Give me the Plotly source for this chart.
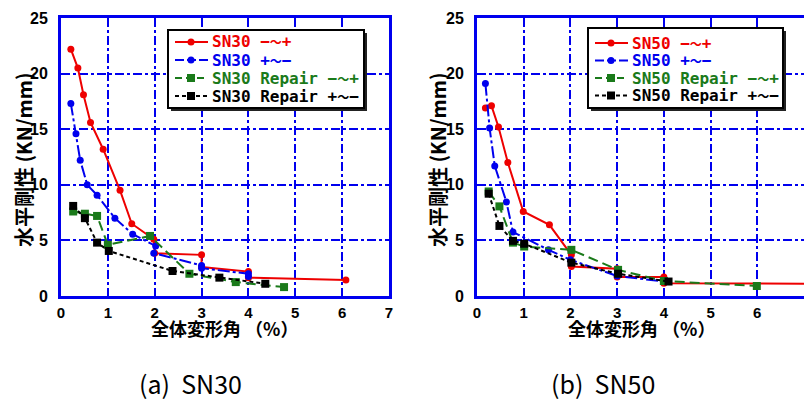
import plotly.graph_objects as go

# ---------------- data ----------------
sn30_red_x = [0.21, 0.36, 0.48, 0.63, 0.90, 1.26, 1.51, 1.98, 2.0, 3.0, 3.0, 4.0, 4.0, 6.08]
sn30_red_y = [22.2, 20.5, 18.1, 15.6, 13.2, 9.5, 6.5, 5.1, 3.85, 3.7, 2.6, 2.2, 1.65, 1.45]
sn30_blue_x = [0.21, 0.32, 0.41, 0.56, 0.77, 1.15, 1.53, 2.02, 1.98, 3.0, 3.0, 4.0, 4.0]
sn30_blue_y = [17.3, 14.6, 12.2, 10.0, 9.07, 7.0, 5.56, 4.5, 3.85, 2.75, 2.5, 2.0, 1.75]
sn30_green_x = [0.26, 0.51, 0.77, 1.0, 1.9, 2.74, 3.73, 4.76]
sn30_green_y = [7.6, 7.4, 7.2, 4.6, 5.4, 2.0, 1.25, 0.8]
sn30_black_x = [0.26, 0.51, 0.77, 1.02, 2.38, 3.38, 4.36]
sn30_black_y = [8.1, 7.0, 4.8, 4.05, 2.25, 1.65, 1.1]

sn50_red_x = [0.18, 0.31, 0.46, 0.66, 0.99, 1.55, 2.02, 2.02, 3.0, 3.0, 4.0, 4.0, 8.0]
sn50_red_y = [16.9, 17.1, 15.2, 12.0, 7.6, 6.4, 3.7, 2.65, 2.45, 1.7, 1.7, 1.15, 1.1]
sn50_blue_x = [0.18, 0.27, 0.38, 0.63, 0.77, 1.53, 2.0, 3.0, 4.0]
sn50_blue_y = [19.1, 15.1, 11.7, 8.45, 5.75, 4.15, 3.25, 1.8, 1.3]
sn50_green_x = [0.25, 0.48, 0.77, 1.01, 2.02, 3.02, 4.0, 5.99]
sn50_green_y = [9.4, 8.06, 4.8, 4.45, 4.15, 2.35, 1.35, 0.9]
sn50_black_x = [0.25, 0.48, 0.77, 1.01, 2.02, 3.02, 4.1]
sn50_black_y = [9.2, 6.3, 4.96, 4.7, 3.0, 2.0, 1.3]

x_ticks = [0, 1, 2, 3, 4, 5, 6, 7]
y_ticks = [0, 5, 10, 15, 20, 25]
x_title = "全体変形角 （%）"
y_title = "水平剛性 (KN/mm)"
panel_titles = ["(a)  SN30", "(b)  SN50"]
sn30_names = ["SN30 −〜+", "SN30 +〜−", "SN30 Repair −〜+", "SN30 Repair +〜−"]
sn50_names = ["SN50 −〜+", "SN50 +〜−", "SN50 Repair −〜+", "SN50 Repair +〜−"]

CJK = "Noto Sans CJK JP"
MONO = "DejaVu Sans Mono, Noto Sans CJK JP"
LAT = "Liberation Sans, Arial, sans-serif"
BLUE = "#0000ee"

styles = [
    dict(color="#ee0000", dash="solid", symbol="circle", size=7, ldash="solid"),
    dict(color="#0000ee", dash="12px,3px,3px,3px", symbol="circle", size=7, ldash="9px,3px"),
    dict(color="#1a7a1a", dash="10px,5px", symbol="square", size=8, ldash="7px,4px"),
    dict(color="#000000", dash="4px,3px", symbol="square", size=8, ldash="4px,3px"),
]

W, H = 804, 400
L1, R1 = 61, 389
L2, R2 = 477, 804
TOP, BOT = 18, 296


def px(x):
    return x / W


def py(y):
    return 1 - y / H


def legend_text(name):
    # draw the wave dash a little smaller so it occupies about one half-width cell
    return name.replace("〜", '<span style="font-family:Noto Sans CJK JP;font-size:12px">〜</span>')


fig = go.Figure()

panels = [
    ("x", "y", [(sn30_red_x, sn30_red_y), (sn30_blue_x, sn30_blue_y),
                (sn30_green_x, sn30_green_y), (sn30_black_x, sn30_black_y)], sn30_names),
    ("x2", "y2", [(sn50_red_x, sn50_red_y), (sn50_blue_x, sn50_blue_y),
                  (sn50_green_x, sn50_green_y), (sn50_black_x, sn50_black_y)], sn50_names),
]

for xa, ya, series, names in panels:
    for s, (xs, ys), nm in zip(styles, series, names):
        fig.add_trace(go.Scatter(
            x=xs, y=ys, xaxis=xa, yaxis=ya, mode="lines+markers", name=nm,
            line=dict(color=s["color"], width=2, dash=s["dash"]),
            marker=dict(color=s["color"], symbol=s["symbol"], size=s["size"]),
        ))

axis_common = dict(
    showline=True, linecolor=BLUE, linewidth=3, mirror=True,
    showgrid=True, gridcolor=BLUE, gridwidth=2, griddash="dashdot",
    zeroline=False, ticks="", automargin=False,
    tickfont=dict(family=LAT, size=15, color="black", weight="bold"),
)

fig.update_layout(
    width=W, height=H, margin=dict(l=0, r=0, t=0, b=0, autoexpand=False),
    paper_bgcolor="white", plot_bgcolor="white", showlegend=False,
    xaxis=dict(axis_common, range=[0, 7], tickvals=x_ticks, domain=[px(L1), px(R1)], anchor="y",
               ticklabelstandoff=1),
    yaxis=dict(axis_common, range=[0, 25], tickvals=y_ticks, domain=[py(BOT), py(TOP)], anchor="x",
               ticklabelstandoff=7, tickfont=dict(family=LAT, size=16, color="black", weight="bold")),
    xaxis2=dict(axis_common, range=[0, 7], tickvals=x_ticks, domain=[px(L2), px(R2)], anchor="y2",
                ticklabelstandoff=1),
    yaxis2=dict(axis_common, range=[0, 25], tickvals=y_ticks, domain=[py(BOT), py(TOP)], anchor="x2",
                ticklabelstandoff=7, tickfont=dict(family=LAT, size=16, color="black", weight="bold")),
)

# ---------------- legend boxes (drawn as layout decorations) ----------------
legend_boxes = [
    ((168, 30, 364, 108), [42, 60, 78, 96], sn30_names),
    ((588, 28, 783, 108), [43, 60.5, 78, 95.5], sn50_names),
]
for (x0, y0, x1, y1), rows, names in legend_boxes:
    fig.add_shape(type="rect", xref="paper", yref="paper",
                  x0=px(x0 + 3), x1=px(x1 + 3), y0=py(y1 + 3), y1=py(y0 + 3),
                  fillcolor="#222222", line=dict(width=0), layer="above")
    fig.add_shape(type="rect", xref="paper", yref="paper",
                  x0=px(x0), x1=px(x1), y0=py(y1), y1=py(y0),
                  fillcolor="white", line=dict(color="black", width=2), layer="above")
    for s, ry, nm in zip(styles, rows, names):
        fig.add_shape(type="line", xref="paper", yref="paper",
                      x0=px(x0 + 7), x1=px(x0 + 40), y0=py(ry), y1=py(ry),
                      line=dict(color=s["color"], width=2, dash=s["ldash"]), layer="above")
        r = 3.5 if s["symbol"] == "circle" else 4
        fig.add_shape(type="circle" if s["symbol"] == "circle" else "rect",
                      xref="paper", yref="paper",
                      x0=px(x0 + 23 - r), x1=px(x0 + 23 + r), y0=py(ry + r), y1=py(ry - r),
                      fillcolor=s["color"], line=dict(color=s["color"], width=0), layer="above")
        fig.add_annotation(x=px(x0 + 42), y=py(ry), xref="paper", yref="paper", text=legend_text(nm),
                           xanchor="left", yanchor="middle", showarrow=False,
                           font=dict(family=MONO, size=16, color=s["color"], weight="bold"))

# axis titles and panel captions
for cx in [(L1 + R1) / 2, (L2 + R2 + 2) / 2]:
    fig.add_annotation(x=px(cx), y=py(328), xref="paper", yref="paper", text=x_title,
                       xanchor="center", yanchor="middle", showarrow=False,
                       font=dict(family=CJK, size=18, color="black", weight="bold"))
for cx in [23, 437]:
    fig.add_annotation(x=px(cx), y=py(160), xref="paper", yref="paper", text=y_title,
                       xanchor="center", yanchor="middle", textangle=-90, showarrow=False,
                       font=dict(family=CJK, size=20, color="black", weight="bold"))
for cx, t in zip([190, 603], panel_titles):
    fig.add_annotation(x=px(cx), y=py(383), xref="paper", yref="paper", text=t,
                       xanchor="center", yanchor="middle", showarrow=False,
                       font=dict(family=CJK, size=25, color="black"))

fig.write_html("out.html", config={"displayModeBar": False},
               post_script="document.body.style.margin='0px';")
